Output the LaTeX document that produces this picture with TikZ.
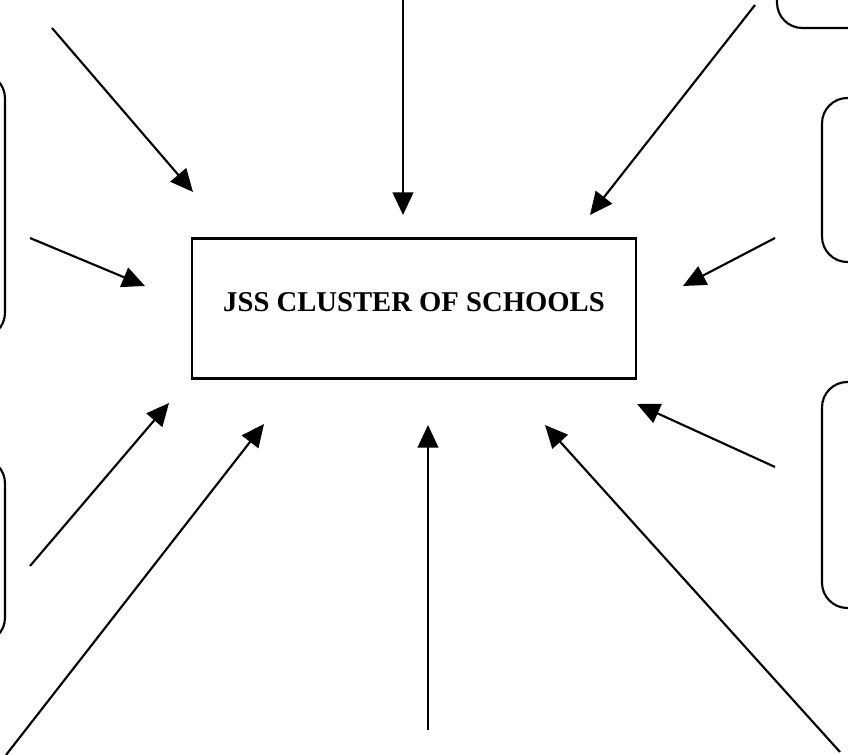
\documentclass[tikz,border=0pt]{standalone}
\usepackage{fontspec}
\setmainfont{Liberation Serif}
\usetikzlibrary{arrows.meta}

\begin{document}
\begin{tikzpicture}[x=0.75pt,y=-0.75pt,line width=1.6pt,
  feeder/.style={-{Triangle[length=17pt,width=15.5pt]}},
  sidebox/.style={rounded corners=19pt}]
\useasboundingbox (0,0) rectangle (848,755);
\clip (0,0) rectangle (848,755);
% boxes cut off at the page edge
\draw[sidebox] (-200,73) rectangle (5,338);
\draw[sidebox] (-200,458) rectangle (5,643);
\draw[sidebox] (777,-200) rectangle (1100,28);
\draw[sidebox] (822,98) rectangle (1100,262);
\draw[sidebox] (822,382) rectangle (1100,608);
\node[draw, minimum width=333pt, minimum height=105pt, text height=14.2pt, text depth=9pt,
  font=\bfseries\fontsize{21.5}{26}\selectfont] (jss) at (414,308.5) {JSS CLUSTER OF SCHOOLS};
% arrows pointing at the cluster
\foreach \n/\sx/\sy/\ex/\ey in {a/52/28/193/192, b/403/0/403/215, c/755/5/590/215,
  d/30/238/145/286, e/775/238/683/286, f/30/566/169/403, g/6/755/264/424,
  h/428/730/428/425, i/840/752/545/425, j/775/467/637/404} {
  \coordinate (s\n) at (\sx,\sy);
  \coordinate (t\n) at (\ex,\ey);
  \draw[feeder] (s\n) -- (t\n);
}
\end{tikzpicture}
\end{document}
